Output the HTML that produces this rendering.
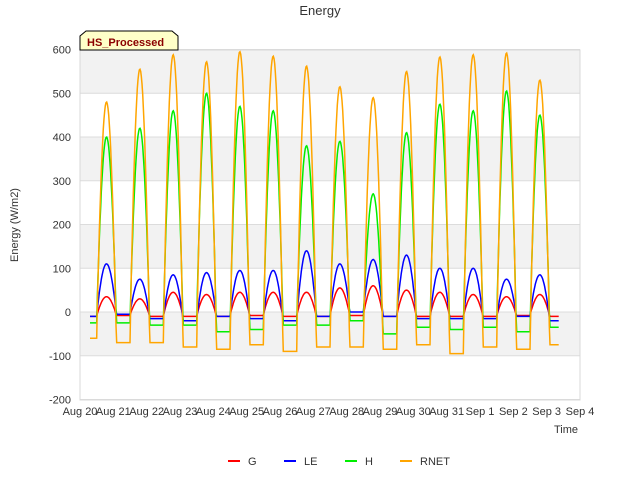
<!DOCTYPE html>
<html><head><meta charset="utf-8"><style>
body{margin:0;background:#fff;font-family:"Liberation Sans","DejaVu Sans",sans-serif}
</style></head><body>
<svg id="chart" width="640" height="480" viewBox="0 0 640 480" xmlns="http://www.w3.org/2000/svg">
<g id="bands"></g>
<g id="grid"></g>
<rect x="80" y="50" width="500" height="350" fill="none" stroke="#d8d8d8"/>
<g id="series"></g>
<g id="ticks" font-size="11" fill="#333"></g>
<text x="320" y="15" text-anchor="middle" font-size="13" fill="#333">Energy</text>
<text x="18" y="225" text-anchor="middle" font-size="11" fill="#333" transform="rotate(-90 18 225)">Energy (W/m2)</text>
<text x="578" y="433" text-anchor="end" font-size="11" fill="#333">Time</text>
<g>
<path d="M80,50 L80,36 L86,31 L172,31 L178,36 L178,50 Z" fill="#ffffc8" stroke="#000"/>
<text x="87" y="46" font-size="11" font-weight="bold" fill="#8b0000">HS_Processed</text>
</g>
<g id="legend" font-size="11" fill="#333"></g>
</svg>
<script>
const days=["Aug 20","Aug 21","Aug 22","Aug 23","Aug 24","Aug 25","Aug 26","Aug 27","Aug 28","Aug 29","Aug 30","Aug 31","Sep 1","Sep 2","Sep 3","Sep 4"];
const yTicks=[-200,-100,0,100,200,300,400,500,600];
const rnetPeak=[480,555,588,572,595,585,562,515,490,550,583,588,592,530];
const rnetNight=[-60,-70,-70,-80,-85,-75,-90,-80,-80,-85,-75,-95,-80,-85,-75];
const hPeak=[400,420,460,500,470,460,380,390,270,410,475,460,505,450];
const hNight=[-25,-25,-30,-30,-45,-40,-30,-30,-20,-50,-35,-40,-35,-45,-35];
const lePeak=[110,75,85,90,95,95,140,110,120,130,100,100,75,85];
const leNight=[-10,-5,-15,-20,-10,-15,-20,-10,0,-10,-15,-15,-15,-10,-20];
const gPeak=[35,30,45,40,45,45,45,55,60,50,45,40,35,40];
const gNight=[-10,-8,-10,-10,-10,-8,-10,-10,-8,-10,-10,-10,-10,-8,-10];
const NS="http://www.w3.org/2000/svg";
const X=d=>80+d*500/15, Y=v=>312-v*350/800;
function mk(tag,attrs,parent){const e=document.createElementNS(NS,tag);for(const k in attrs)e.setAttribute(k,attrs[k]);parent.appendChild(e);return e;}
const bands=document.getElementById('bands'),grid=document.getElementById('grid'),ticks=document.getElementById('ticks');
[[500,600],[300,400],[100,200],[-100,0]].forEach(b=>{const r=mk('rect',{x:80,y:Y(b[1]),width:500,height:Y(b[0])-Y(b[1]),fill:'#f2f2f2'},bands);

});
yTicks.forEach(v=>{const l=mk('line',{x1:80,x2:580,y1:Y(v),y2:Y(v),stroke:'#dcdcdc'},grid);


const t=mk('text',{x:71,y:Y(v)+4,'text-anchor':'end'},ticks);t.textContent=v;

});
days.forEach((d,i)=>{const t=mk('text',{x:X(i),y:415,'text-anchor':'middle'},ticks);t.textContent=d;

});
function series(peak,night,color,name){
 let pts=[];
 for(let t=0.3;t<=14.36;t+=0.02){
  const s0=t-0.3,d=Math.floor(s0),f=s0-d;let v;
  const nPrev=night[Math.max(0,d)],nNext=night[d+1];
  if(f>=0.2&&f<=0.79&&d<peak.length){const s=Math.sin(Math.PI*(f-0.2)/0.59);const base=f<0.5?nPrev:nNext;v=base+(peak[d]-base)*Math.pow(s,0.9);}
  else v=f<0.2?nPrev:nNext;
  pts.push(X(t).toFixed(1)+','+Y(v).toFixed(1));
 }
 const p=mk('polyline',{points:pts.join(' '),fill:'none',stroke:color,'stroke-width':1.5},document.getElementById('series'));
 
 
}
series(gPeak,gNight,'#ff0000','series-g');
series(lePeak,leNight,'#0000ff','series-le');
series(hPeak,hNight,'#00ee00','series-h');
series(rnetPeak,rnetNight,'#ffa500','series-rnet');
const leg=[["G","#ff0000",228],["LE","#0000ff",284],["H","#00ee00",345],["RNET","#ffa500",400]];
const lg=document.getElementById('legend');
leg.forEach(l=>{const g=mk('g',{},lg);


mk('line',{x1:l[2],x2:l[2]+12,y1:461,y2:461,stroke:l[1],'stroke-width':2},g);
const t=mk('text',{x:l[2]+20,y:465},g);t.textContent=l[0];});
</script>
</body></html>
